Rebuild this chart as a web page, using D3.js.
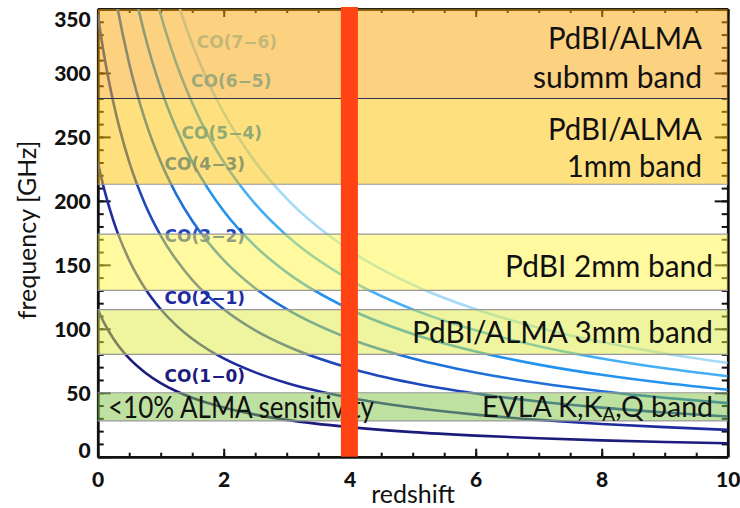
<!DOCTYPE html>
<html>
<head>
<meta charset="utf-8">
<script src="https://cdn.jsdelivr.net/npm/d3@7"></script>
<style>
  body { margin: 0; background: white; }
  svg { display: block; }
</style>
</head>
<body>
<main></main>
<script>
const redshift = [0, 0.1, 0.25, 0.5, 0.75, 1, 1.25, 1.5, 1.75, 2, 2.5, 3, 4, 5, 6, 7, 8, 9, 10];
const lineNames = ["CO(1−0)", "CO(2−1)", "CO(3−2)", "CO(4−3)", "CO(5−4)", "CO(6−5)", "CO(7−6)"];
const co10 = [115.3, 104.8, 92.2, 76.8, 65.9, 57.6, 51.2, 46.1, 41.9, 38.4, 32.9, 28.8, 23.1, 19.2, 16.5, 14.4, 12.8, 11.5, 10.5];
const co21 = [230.5, 209.6, 184.4, 153.7, 131.7, 115.3, 102.5, 92.2, 83.8, 76.8, 65.9, 57.6, 46.1, 38.4, 32.9, 28.8, 25.6, 23.1, 21.0];
const co32 = [345.8, 314.4, 276.6, 230.5, 197.6, 172.9, 153.7, 138.3, 125.7, 115.3, 98.8, 86.5, 69.2, 57.6, 49.4, 43.2, 38.4, 34.6, 31.4];
const co43 = [461.0, 419.1, 368.8, 307.4, 263.5, 230.5, 204.9, 184.4, 167.7, 153.7, 131.7, 115.3, 92.2, 76.8, 65.9, 57.6, 51.2, 46.1, 41.9];
const co54 = [576.3, 523.9, 461.0, 384.2, 329.3, 288.1, 256.1, 230.5, 209.6, 192.1, 164.6, 144.1, 115.3, 96.0, 82.3, 72.0, 64.0, 57.6, 52.4];
const co65 = [691.5, 628.6, 553.2, 461.0, 395.1, 345.7, 307.3, 276.6, 251.4, 230.5, 197.6, 172.9, 138.3, 115.2, 98.8, 86.4, 76.8, 69.1, 62.9];
const co76 = [806.7, 733.3, 645.3, 537.8, 461.0, 403.3, 358.5, 322.7, 293.3, 268.9, 230.5, 201.7, 161.3, 134.4, 115.2, 100.8, 89.6, 80.7, 73.3];
const lineFreqs = [co10, co21, co32, co43, co54, co65, co76];
const lineColors = ["#1c1c7c", "#1f2c9e", "#1f48ba", "#1f70d8", "#2393ee", "#45aef5", "#a6dbf8"];
const labelColors = ["#1c1c7c", "#1f2c9e", "#1f48ba", "#1f70d8", "#2393ee", "#45aef5", "#8fcdf2"];
// where each CO label sits, [redshift, GHz]
const labelAt = [[1.70, 63], [1.70, 124], [1.70, 173], [1.70, 229], [1.97, 253], [2.12, 294], [2.21, 324]];

// receiver bands (GHz)
const bandLow = [280, 213, 130, 80, 28];
const bandHigh = [350, 280, 174, 115, 50];
const bandColors = ["#f9a300", "#fdc100", "#fff53f", "#ddeb3d", "#7dc141"];
const bandEdgeColors = ["#2a3050", "#999999", "#999999", "#999999", "#999999"];

// the z ~ 4 strip
const stripLow = 3.86;
const stripHigh = 4.13;

const xTicks = [0, 2, 4, 6, 8, 10];
const yTicks = [0, 50, 100, 150, 200, 250, 300, 350];

const W = 740, H = 508;
const L = 97.7, R = 727.7, T = 9, B = 456.7;

const svg = d3.select("main").append("svg").attr("width", W).attr("height", H);

const x = d3.scaleLinear().domain([0, 10]).range([L, R]);
const y = d3.scaleLinear().domain([0, 350]).range([B, T]);

svg.append("defs").append("clipPath").attr("id", "plot")
   .append("rect").attr("x", L).attr("y", T).attr("width", R - L).attr("height", B - T);

// axes (drawn first so the bands tint the ticks)
function styleAxis (g) {
    g.selectAll(".domain").attr("stroke", "#111").attr("stroke-width", 2.5);
    g.selectAll(".tick line").attr("stroke", "#111").attr("stroke-width", 2);
    g.selectAll("text").attr("fill", "#111")
     .style("font-family", "Lato, 'Open Sans', sans-serif")
     .style("font-weight", "900").style("font-size", "21px");
}

const minorX = d3.range(0, 10.01, 0.5);
const minorY = d3.range(0, 350.1, 10);

const axes = svg.append("g");
axes.append("g").attr("transform", `translate(0,${B})`)
    .call(d3.axisBottom(x).tickValues(minorX).tickSizeInner(-4).tickSizeOuter(0).tickFormat(""));
axes.append("g").attr("transform", `translate(0,${B})`)
    .call(d3.axisBottom(x).tickValues(xTicks).tickSizeInner(-8).tickSizeOuter(0).tickPadding(30).tickFormat(d3.format("d")))
    .call(g => g.selectAll("text").attr("dy", "0"));
axes.append("g").attr("transform", `translate(0,${T})`)
    .call(d3.axisTop(x).tickValues(minorX).tickSizeInner(-4).tickSizeOuter(0).tickFormat(""));
axes.append("g").attr("transform", `translate(0,${T})`)
    .call(d3.axisTop(x).tickValues(xTicks).tickSizeInner(-8).tickSizeOuter(0).tickFormat(""));
axes.append("g").attr("transform", `translate(${L},0)`)
    .call(d3.axisLeft(y).tickValues(minorY).tickSizeInner(-6).tickSizeOuter(0).tickFormat(""));
axes.append("g").attr("transform", `translate(${L},0)`)
    .call(d3.axisLeft(y).tickValues(yTicks).tickSizeInner(-13).tickSizeOuter(0).tickPadding(7).tickFormat(d3.format("d")))
    .call(g => g.selectAll("text").attr("dy", d => d == 350 ? "0.85em" : d == 0 ? "0.05em" : "0.38em"));
axes.append("g").attr("transform", `translate(${R},0)`)
    .call(d3.axisRight(y).tickValues(minorY).tickSizeInner(-6).tickSizeOuter(0).tickFormat(""));
axes.append("g").attr("transform", `translate(${R},0)`)
    .call(d3.axisRight(y).tickValues(yTicks).tickSizeInner(-13).tickSizeOuter(0).tickFormat(""));
axes.selectAll("g").call(styleAxis);

// CO lines
const line = d3.line().curve(d3.curveMonotoneX)
               .x((d, i) => x(redshift[i]))
               .y(d => y(d));

const curves = svg.append("g").attr("clip-path", "url(#plot)");
curves.selectAll("path").data(lineFreqs).join("path")
      .attr("d", line)
      .attr("fill", "none")
      .attr("stroke", (d, i) => lineColors[i])
      .attr("stroke-width", 2.6);

svg.append("g").selectAll("text").data(lineNames).join("text")
   .attr("x", (d, i) => x(labelAt[i][0]))
   .attr("y", (d, i) => y(labelAt[i][1]))
   .attr("dy", "0.36em")
   .attr("text-anchor", "middle")
   .attr("fill", (d, i) => labelColors[i])
   .style("font-family", "'DejaVu Sans', sans-serif")
   .style("font-weight", "bold")
   .style("font-size", "17px")
   .text(d => d);

// bands, half transparent over everything so far
const bands = svg.append("g");
bands.selectAll("rect").data(bandLow).join("rect")
     .attr("x", L)
     .attr("width", R - L)
     .attr("y", (d, i) => y(Math.min(bandHigh[i], 350)))
     .attr("height", (d, i) => y(d) - y(Math.min(bandHigh[i], 350)))
     .attr("fill", (d, i) => bandColors[i])
     .attr("fill-opacity", 0.5);

const edges = [];
bandLow.forEach((d, i) => {
    edges.push({v: d, c: bandEdgeColors[i]});
    if (bandHigh[i] < 350 && bandLow.indexOf(bandHigh[i]) < 0) edges.push({v: bandHigh[i], c: "#999999"});
});
bands.selectAll("line").data(edges).join("line")
     .attr("x1", L).attr("x2", R)
     .attr("y1", d => y(d.v)).attr("y2", d => y(d.v))
     .attr("stroke", d => d.c)
     .attr("stroke-width", 1.1);

// band captions
const captions = svg.append("g")
    .style("font-family", "Lato, 'Open Sans', sans-serif")
    .style("font-size", "30px")
    .attr("fill", "#111");

const rightText = [
    {t: "PdBI/ALMA", f: 319, r: 702, w: 154},
    {t: "submm band", f: 288, r: 702, w: 169},
    {t: "PdBI/ALMA", f: 247.5, r: 702, w: 154},
    {t: "1mm band", f: 218.5, r: 702, w: 135},
    {t: "PdBI 2mm band", f: 140.5, r: 713, w: 208},
    {t: "PdBI/ALMA 3mm band", f: 89, r: 713, w: 301}
];
captions.selectAll("text.r").data(rightText).join("text")
    .attr("class", "r")
    .attr("x", d => d.r)
    .attr("y", d => y(d.f))
    .attr("text-anchor", "end")
    .attr("textLength", d => d.w)
    .attr("lengthAdjust", "spacingAndGlyphs")
    .text(d => d.t);

const evla = captions.append("text")
    .attr("x", 713).attr("y", y(31))
    .attr("text-anchor", "end")
    .style("font-size", "28.5px");
evla.append("tspan").text("EVLA K,K");
evla.append("tspan").attr("dy", 4).style("font-size", "19px").text("A");
evla.append("tspan").attr("dy", -4).text(",Q band");

captions.append("text")
    .attr("x", 108).attr("y", y(30.5))
    .attr("textLength", 266)
    .attr("lengthAdjust", "spacingAndGlyphs")
    .text("<10% ALMA sensitivity");

// z ~ 4 strip on top
svg.append("rect")
   .attr("x", x(stripLow))
   .attr("width", x(stripHigh) - x(stripLow))
   .attr("y", T - 2)
   .attr("height", B - T + 2)
   .attr("fill", "#ff4314");

// axis titles
svg.append("text")
   .attr("x", 413).attr("y", 503)
   .attr("text-anchor", "middle")
   .style("font-family", "Lato, 'Open Sans', sans-serif")
   .style("font-size", "25px")
   .attr("fill", "#111")
   .text("redshift");

svg.append("text")
   .attr("transform", "translate(36,230) rotate(-90)")
   .attr("text-anchor", "middle")
   .style("font-family", "Lato, 'Open Sans', sans-serif")
   .style("font-size", "25px")
   .attr("fill", "#111")
   .text("frequency [GHz]");
</script>
</body>
</html>
